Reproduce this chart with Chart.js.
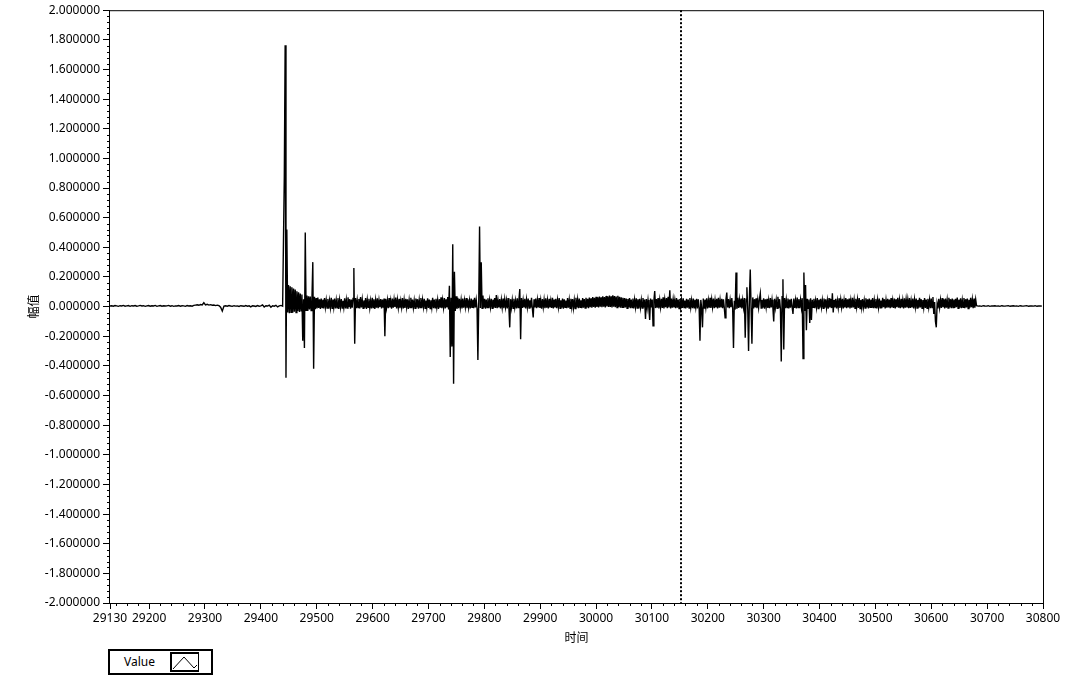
<!DOCTYPE html>
<html>
<head>
<meta charset="utf-8">
<script src="https://cdn.jsdelivr.net/npm/chart.js@4.4.1/dist/chart.umd.min.js"></script>
<style>
  html, body { margin: 0; padding: 0; background: #fff; }
  #wrap { position: relative; width: 1067px; height: 675px; overflow: hidden; }
  #legend {
    position: absolute; left: 108px; top: 649px; width: 105px; height: 26px;
    box-sizing: border-box; border: 2px solid #000; background: #fff;
    font: 12px "Noto Sans", sans-serif; color: #000;
  }
  #legend .lbl { position: absolute; left: 14px; top: 2px; line-height: 17px; }
  #legend .icon {
    position: absolute; left: 60px; top: 1px; width: 29px; height: 20px;
    box-sizing: border-box; border: 2px solid #000; border-right-width: 1px;
  }
</style>
</head>
<body>
<div id="wrap">
  <canvas id="waveChart" width="1067" height="675"></canvas>
  <div id="legend">
    <span class="lbl">Value</span>
    <span class="icon"><svg width="26" height="17" viewBox="0 0 26 17">
      <polyline points="1,15 12,3 22,14 25,11" fill="none" stroke="#000" stroke-width="1"/>
    </svg></span>
  </div>
</div>
<script>
// quiet trace before the burst: 29130 .. 29439, every 3
var quietBeforeStart = 29130;
var quietBeforeStep = 3;
var quietBefore = [
  0.004, 0.006, 0.003, 0.007, 0.005, 0.002, 0.006, 0.004, 0.008, 0.003,
  0.005, 0.007, 0.002, 0.006, 0.004, 0.007, 0.003, 0.005, 0.008, 0.004,
  0.006, 0.002, 0.005, 0.007, 0.003, 0.006, 0.004, 0.008, 0.002, 0.005,
  0.007, 0.003, 0.006, 0.004, 0.005, 0.008, 0.003, 0.006, 0.002, 0.005,
  0.004, 0.007, 0.003, 0.006, 0.005, 0.002, 0.007, 0.004, 0.006, 0.003,
  0.008, 0.010, 0.012, 0.009, 0.014, 0.011, 0.026, 0.012, 0.016, 0.010,
  0.013, 0.009, 0.011, 0.007, 0.010, 0.006, -0.004, -0.030, 0.004, 0.006,
  0.003, 0.007, 0.004, 0.002, 0.006, 0.003, 0.005, 0.001, 0.006, 0.004,
  0.002, 0.007, 0.003, 0.005, -0.002, 0.006, 0.004, 0.001, 0.007, 0.003,
  0.005, 0.012, -0.003, 0.006, 0.004, 0.010, -0.004, 0.006, 0.003, 0.009,
  -0.002, 0.005, 0.008, 0.003
];

// the burst: 29442 .. 30679.5, every 1.5
var burstStart = 29442;
var burstStep = 1.5;
var burst = [
  0.88, 1.764, -0.48, 0.52, -0.04, 0.145, -0.045, 0.138, -0.038, 0.130,
  -0.042, 0.122, -0.035, 0.115, -0.040, 0.104, -0.030, 0.096, -0.036, 0.088,
  -0.028, 0.082, -0.23, 0.05, -0.28, 0.50, -0.025, 0.075, -0.030, 0.070,
  -0.020, 0.068, -0.026, 0.062, 0.30, -0.42, 0.066, -0.018, 0.058, -0.012,
  // 29502
  0.061, -0.009, 0.049, -0.015, 0.055, -0.006, 0.047, -0.012, 0.058, -0.004,
  0.044, -0.010, 0.052, -0.014, 0.041, -0.007, 0.060, -0.011, 0.048, -0.005,
  0.054, -0.013, 0.043, -0.008, 0.057, -0.016, 0.046, -0.004, 0.051, -0.010,
  0.039, -0.006, 0.056, -0.012, 0.045, -0.009, 0.062, -0.003, 0.050, -0.014,
  0.047, -0.007, 0.055, 0.26, -0.25, 0.058, -0.010, 0.044, -0.006, 0.052,
  -0.013, 0.064, -0.005, 0.048, -0.011, 0.042, -0.008, 0.057, -0.015, 0.046,
  -0.004, 0.053, -0.009, 0.040, -0.012, 0.059, -0.006, 0.049, -0.016, 0.045,
  -0.007, 0.056, -0.010, 0.043, -0.003, 0.051, -0.013, 0.047, -0.008, 0.054,
  // 29622
  -0.20, 0.050, -0.006, 0.044, -0.011, 0.058, -0.005, 0.041, -0.014, 0.055,
  -0.008, 0.048, -0.003, 0.061, -0.012, 0.046, -0.007, 0.052, -0.010, 0.039,
  -0.005, 0.057, -0.013, 0.045, -0.009, 0.053, -0.004, 0.049, -0.015, 0.043,
  -0.006, 0.060, -0.011, 0.047, -0.008, 0.042, -0.012, 0.055, -0.005, 0.050,
  -0.014, 0.044, -0.007, 0.058, -0.010, 0.046, -0.003, 0.052, -0.012, 0.041,
  -0.006, 0.056, -0.009, 0.048, -0.013, 0.043, -0.005, 0.059, -0.011, 0.047,
  -0.008, 0.053, -0.004, 0.045, -0.015, 0.050, -0.007, 0.062, -0.010, 0.044,
  -0.006, 0.057, -0.012, 0.049, -0.005, 0.064, -0.020, 0.14, -0.34, 0.06,
  // 29742
  -0.27, 0.42, -0.52, 0.235, -0.03, 0.070, -0.015, 0.060, -0.010, 0.052,
  -0.006, 0.046, -0.012, 0.055, -0.008, 0.043, -0.004, 0.058, -0.011, 0.049,
  -0.007, 0.041, -0.013, 0.054, -0.005, 0.047, -0.010, 0.060, -0.006, 0.045,
  -0.012, -0.36, 0.02, 0.54, -0.01, 0.30, -0.012, 0.075, -0.008, 0.052,
  -0.014, 0.048, -0.006, 0.056, -0.010, 0.044, -0.004, 0.053, -0.012, 0.047,
  -0.007, 0.058, -0.009, 0.078, -0.011, 0.043, -0.005, 0.051, -0.013, 0.046,
  -0.006, 0.055, -0.010, 0.049, -0.004, 0.042, -0.012, 0.057, -0.008, -0.14,
  0.050, -0.006, 0.045, -0.011, 0.053, -0.005, 0.040, -0.013, 0.056, -0.007,
  // 29862
  0.048, 0.118, -0.22, 0.058, -0.009, 0.044, -0.006, 0.052, -0.012, 0.047,
  -0.004, 0.055, -0.010, 0.043, -0.007, 0.060, -0.012, -0.073, 0.049, -0.005,
  0.054, -0.011, 0.046, -0.006, 0.058, -0.009, 0.042, -0.014, 0.051, -0.004,
  0.047, -0.010, 0.056, -0.007, 0.044, -0.012, 0.053, -0.005, 0.040, -0.009,
  0.059, -0.013, 0.048, -0.006, 0.052, -0.010, 0.045, -0.004, 0.057, -0.011,
  0.043, -0.008, 0.055, -0.014, 0.049, -0.005, 0.041, -0.010, 0.058, -0.007,
  0.046, -0.012, 0.053, -0.004, 0.050, -0.009, 0.044, -0.013, 0.060, -0.006,
  0.048, -0.010, 0.055, -0.005, 0.043, -0.011, 0.057, -0.007, 0.051, -0.009,
  // 29982
  0.059, -0.006, 0.052, -0.010, 0.061, -0.004, 0.056, -0.008, 0.064, -0.003,
  0.060, -0.007, 0.066, -0.002, 0.062, -0.005, 0.068, 0.000, 0.063, -0.004,
  0.070, -0.001, 0.065, -0.006, 0.072, 0.001, 0.067, -0.003, 0.074, -0.002,
  0.069, -0.005, 0.076, 0.000, 0.071, -0.004, 0.068, -0.006, 0.073, -0.002,
  0.066, -0.007, 0.063, -0.004, 0.060, -0.009, 0.058, -0.006, 0.055, -0.011,
  0.052, -0.005, 0.057, -0.010, 0.048, -0.007, 0.054, -0.012, 0.046, -0.004,
  0.056, -0.009, 0.049, -0.013, 0.053, -0.006, 0.044, -0.010, 0.058, -0.005,
  0.047, -0.084, 0.051, -0.008, 0.045, -0.011, -0.09, 0.055, -0.006, 0.048,
  // 30102
  -0.13, 0.040, 0.105, -0.010, 0.050, -0.007, 0.057, -0.013, 0.045, -0.005,
  0.053, -0.009, 0.062, -0.012, 0.048, -0.004, 0.058, -0.010, 0.066, -0.006,
  0.11, -0.012, 0.055, -0.008, 0.049, -0.005, 0.044, -0.011, 0.057, -0.007,
  0.047, -0.013, 0.052, -0.004, 0.045, -0.009, 0.056, -0.006, 0.041, -0.012,
  0.053, -0.007, 0.048, -0.010, 0.058, -0.005, 0.043, -0.011, 0.055, -0.008,
  0.046, -0.004, 0.052, -0.012, 0.049, -0.006, -0.23, 0.045, -0.008, -0.14,
  0.054, -0.010, 0.047, -0.005, 0.056, -0.012, 0.043, -0.007, 0.059, -0.009,
  0.048, -0.004, 0.055, -0.011, 0.044, -0.006, 0.052, -0.013, 0.060, -0.008,
  // 30222
  0.046, -0.005, 0.053, -0.010, 0.049, -0.007, -0.075, 0.050, 0.095, -0.006,
  0.051, -0.011, 0.045, -0.004, 0.057, -0.009, -0.28, 0.040, -0.02, 0.23,
  -0.015, 0.060, -0.009, 0.048, -0.006, 0.055, -0.012, 0.044, -0.005, 0.058,
  -0.21, 0.050, 0.13, -0.02, -0.30, 0.06, 0.25, -0.01, -0.25, 0.062,
  -0.012, 0.050, -0.005, 0.056, -0.010, 0.045, -0.007, 0.052, 0.09, -0.010,
  0.045, -0.007, 0.056, -0.014, 0.049, -0.004, 0.053, -0.009, 0.043, -0.011,
  0.058, -0.006, 0.047, -0.008, -0.10, 0.052, -0.005, 0.044, -0.012, 0.066,
  -0.010, 0.050, -0.015, -0.37, 0.066, 0.185, -0.29, 0.058, -0.011, 0.047,
  // 30342
  -0.006, 0.055, -0.013, 0.048, -0.008, 0.052, -0.004, -0.05, 0.055, -0.009,
  0.043, -0.013, 0.061, -0.007, 0.050, -0.010, 0.046, -0.005, 0.057, -0.35,
  0.23, -0.03, 0.145, -0.16, 0.052, -0.012, 0.048, -0.11, 0.057, -0.09,
  0.046, -0.005, 0.053, -0.010, 0.041, -0.006, 0.058, -0.013, 0.047, -0.008,
  0.053, -0.004, 0.044, -0.011, 0.055, -0.007, 0.049, -0.009, 0.042, -0.014,
  0.057, -0.006, 0.050, -0.010, 0.09, -0.04, 0.045, -0.005, 0.053, -0.012,
  0.040, -0.007, 0.056, -0.009, 0.047, -0.004, 0.052, -0.013, 0.044, -0.006,
  0.058, -0.010, 0.049, -0.005, 0.055, -0.012, 0.043, -0.008, 0.060, -0.006,
  // 30462
  0.046, -0.011, 0.053, -0.004, 0.048, -0.009, 0.057, -0.014, 0.045, -0.007,
  0.051, -0.005, 0.042, -0.010, 0.056, -0.006, 0.049, -0.012, 0.054, -0.004,
  0.047, -0.009, 0.058, -0.011, 0.044, -0.006, 0.052, -0.013, 0.046, -0.005,
  0.055, -0.008, 0.041, -0.010, 0.059, -0.004, 0.050, -0.012, 0.045, -0.007,
  0.053, -0.006, 0.048, -0.011, 0.057, -0.005, 0.043, -0.009, 0.055, -0.013,
  0.049, -0.004, 0.060, -0.008, 0.046, -0.010, 0.052, -0.006, 0.044, -0.012,
  0.056, -0.007, 0.050, -0.005, 0.047, -0.011, 0.058, -0.009, 0.042, -0.006,
  0.054, -0.013, 0.048, -0.004, 0.055, -0.010, 0.045, -0.007, 0.059, -0.005,
  // 30582
  0.050, -0.011, 0.044, -0.006, 0.057, -0.009, 0.048, -0.012, 0.053, -0.004,
  0.046, -0.010, 0.055, -0.007, 0.064, -0.05, 0.030, -0.10, -0.14, 0.020,
  -0.012, 0.052, -0.006, 0.045, -0.009, 0.057, -0.004, 0.049, -0.013, 0.054,
  -0.007, 0.046, -0.010, 0.059, -0.005, 0.050, -0.011, 0.055, -0.006, 0.048,
  -0.009, 0.052, -0.004, 0.061, -0.012, 0.047, -0.007, 0.056, -0.010, 0.044,
  -0.005, 0.058, -0.011, 0.050, -0.006, 0.054, -0.013, 0.046, -0.008, 0.060,
  -0.004, 0.049, -0.010, 0.055, -0.007, 0.048
];

// quiet trace after the burst: 30681 .. 30798, every 3
var quietAfterStart = 30681;
var quietAfterStep = 3;
var quietAfter = [
  0.006, 0.003, 0.005, 0.002, 0.006, 0.004, 0.003, 0.006, 0.002, 0.005,
  0.004, 0.006, 0.003, 0.005, 0.002, 0.006, 0.004, 0.003, 0.005, 0.006,
  0.002, 0.004, 0.006, 0.003, 0.005, 0.002, 0.006, 0.004, 0.003, 0.005,
  0.006, 0.002, 0.004, 0.005, 0.003, 0.006, 0.002, 0.004, 0.005, 0.003
];

var xTickValues = [29130, 29200, 29300, 29400, 29500, 29600, 29700, 29800, 29900,
  30000, 30100, 30200, 30300, 30400, 30500, 30600, 30700, 30800];
var yTickValues = [-2.0, -1.8, -1.6, -1.4, -1.2, -1.0, -0.8, -0.6, -0.4, -0.2, 0,
  0.2, 0.4, 0.6, 0.8, 1.0, 1.2, 1.4, 1.6, 1.8, 2.0];
var cursorTime = 30152;
var seriesName = "Value";
var xTitle = "时间";
var yTitle = "幅值";

function toPoints(start, step, values) {
  return values.map(function (v, i) { return { x: start + i * step, y: v }; });
}
var points = toPoints(quietBeforeStart, quietBeforeStep, quietBefore)
  .concat(toPoints(burstStart, burstStep, burst))
  .concat(toPoints(quietAfterStart, quietAfterStep, quietAfter));

var frame = {
  id: 'frame',
  afterDraw: function (chart) {
    var ctx = chart.ctx, a = chart.chartArea;
    var xs = chart.scales.x, ys = chart.scales.y;
    ctx.save();
    ctx.strokeStyle = '#000';
    ctx.lineWidth = 1;
    ctx.strokeRect(a.left - 0.5, a.top + 0.5, a.right - a.left + 1, a.bottom - a.top);
    // minor ticks
    ctx.beginPath();
    for (var t = 29140; t < 30800; t += 20) {
      if (t % 100 === 0) continue;
      var px = Math.round(xs.getPixelForValue(t)) + 0.5;
      ctx.moveTo(px, a.bottom);
      ctx.lineTo(px, a.bottom + 3);
    }
    for (var k = -50; k <= 50; k++) {
      if (k % 5 === 0) continue;
      var py = Math.round(ys.getPixelForValue(k * 0.04)) + 0.5;
      ctx.moveTo(a.left - 3, py);
      ctx.lineTo(a.left, py);
    }
    ctx.stroke();
    // cursor
    var cx = Math.round(xs.getPixelForValue(cursorTime));
    ctx.lineWidth = 2;
    ctx.setLineDash([2, 2]);
    ctx.beginPath();
    ctx.moveTo(cx, a.top);
    ctx.lineTo(cx, a.bottom);
    ctx.stroke();
    ctx.restore();
  }
};

var ctx = document.getElementById("waveChart").getContext('2d');
var waveChart = new Chart(ctx, {
  type: 'line',
  data: {
    datasets: [{
      label: seriesName,
      data: points,
      borderColor: '#000',
      borderWidth: 1.4,
      pointRadius: 0,
      tension: 0,
      fill: false
    }]
  },
  options: {
    responsive: false,
    animation: false,
    layout: { padding: { top: 10, right: 24, bottom: 30, left: 0 } },
    plugins: { legend: { display: false }, tooltip: { enabled: false } },
    scales: {
      x: {
        type: 'linear',
        min: 29130,
        max: 30800,
        afterBuildTicks: function (scale) {
          scale.ticks = xTickValues.map(function (v) { return { value: v }; });
        },
        afterFit: function (scale) { scale.height = 42; },
        grid: { drawOnChartArea: false, drawTicks: true, tickLength: 6, color: '#000' },
        border: { display: false },
        ticks: {
          autoSkip: false, maxRotation: 0, padding: 2, color: '#000',
          font: { family: 'Noto Sans', size: 12 },
          callback: function (v) { return String(v); }
        },
        title: {
          display: true, text: xTitle, color: '#000',
          font: { family: 'Noto Sans CJK SC', size: 12 },
          padding: { top: 0, bottom: 0 }
        }
      },
      y: {
        min: -2,
        max: 2,
        afterBuildTicks: function (scale) {
          scale.ticks = yTickValues.map(function (v) { return { value: v }; });
        },
        afterFit: function (scale) { scale.width = 110; },
        grid: { drawOnChartArea: false, drawTicks: true, tickLength: 7, color: '#000' },
        border: { display: false },
        ticks: {
          autoSkip: false, padding: 3, color: '#000',
          font: { family: 'Noto Sans', size: 12 },
          callback: function (v) { return Number(v).toFixed(6); }
        },
        title: {
          display: true, text: yTitle, color: '#000',
          font: { family: 'Noto Sans CJK SC', size: 12 },
          padding: { top: 26, bottom: 0 }
        }
      }
    }
  },
  plugins: [frame]
});
</script>
</body>
</html>
